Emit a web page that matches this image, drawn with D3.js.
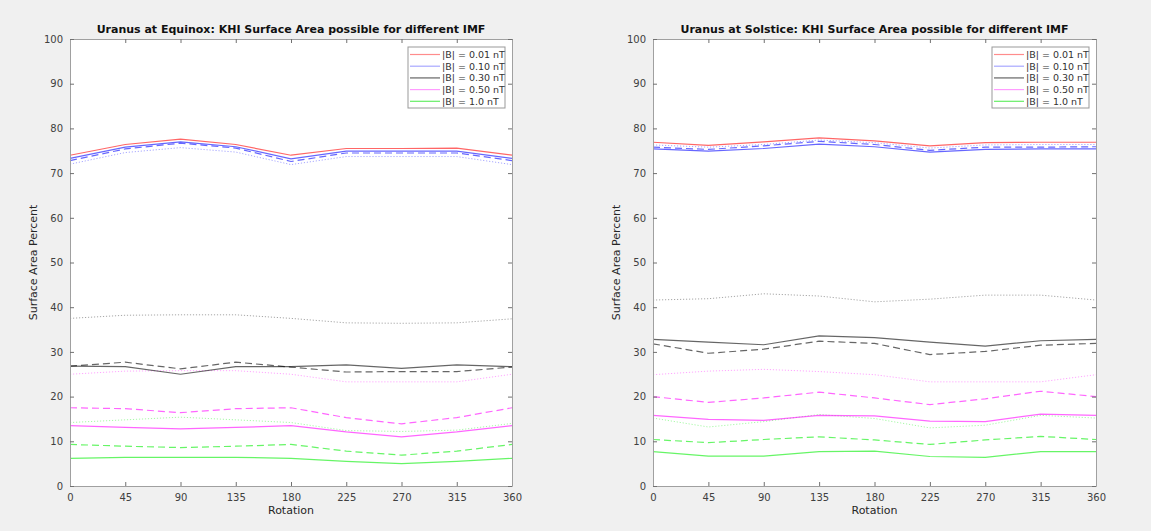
<!DOCTYPE html>
<meta charset="utf-8">
<head>
    <title>Uranus KHI</title>
    <script src="https://cdn.jsdelivr.net/npm/d3@7"></script>
</head>
<style>
    body{ margin:0; background:#f0f0f0; }
    text{ font-family: "DejaVu Sans", Arial, sans-serif; fill:#262626; }
    .tick text{ font-size:10px; fill:#404040; }
</style>
<svg width="1151" height="531"></svg>
<script>
    // rotation angles (x axis)
    var rotation = [0, 45, 90, 135, 180, 225, 270, 315, 360];
    var xTicks = [0, 45, 90, 135, 180, 225, 270, 315, 360];
    var yTicks = [0, 10, 20, 30, 40, 50, 60, 70, 80, 90, 100];
    var legendLabels = ['|B| = 0.01 nT', '|B| = 0.10 nT', '|B| = 0.30 nT', '|B| = 0.50 nT', '|B| = 1.0 nT'];
    var titles = ['Uranus at Equinox: KHI Surface Area possible for different IMF',
                  'Uranus at Solstice: KHI Surface Area possible for different IMF'];

    // equinox
    var eqB001Solid  = [74.0, 76.4, 77.6, 76.4, 74.0, 75.5, 75.5, 75.6, 74.0];
    var eqB010Solid  = [73.3, 75.8, 77.0, 75.9, 73.2, 74.9, 74.9, 74.9, 73.3];
    var eqB010Dashed = [72.8, 75.4, 76.7, 75.6, 72.6, 74.5, 74.5, 74.5, 72.8];
    var eqB010Dotted = [72.0, 74.6, 75.7, 74.7, 71.9, 73.7, 73.7, 73.7, 71.9];
    var eqB030Solid  = [26.8, 26.7, 25.0, 26.7, 26.7, 27.1, 26.3, 27.1, 26.7];
    var eqB030Dashed = [26.8, 27.7, 26.2, 27.7, 26.6, 25.5, 25.6, 25.6, 26.6];
    var eqB030Dotted = [37.5, 38.2, 38.3, 38.3, 37.5, 36.5, 36.4, 36.5, 37.4];
    var eqB050Solid  = [13.5, 13.1, 12.8, 13.1, 13.5, 12.1, 11.0, 12.1, 13.5];
    var eqB050Dashed = [17.5, 17.3, 16.4, 17.3, 17.5, 15.3, 13.9, 15.3, 17.5];
    var eqB050Dotted = [25.0, 25.7, 25.8, 25.8, 25.0, 23.3, 23.3, 23.3, 25.0];
    var eqB100Solid  = [6.2, 6.4, 6.4, 6.4, 6.2, 5.5, 5.0, 5.5, 6.2];
    var eqB100Dashed = [9.3, 8.9, 8.6, 8.9, 9.3, 7.8, 6.9, 7.8, 9.3];
    var eqB100Dotted = [14.2, 14.8, 15.4, 14.8, 14.2, 12.4, 12.2, 12.5, 14.0];

    // solstice
    var soB001Solid  = [76.9, 76.2, 77.0, 77.9, 77.2, 76.1, 76.8, 76.9, 76.9];
    var soB010Solid  = [75.4, 74.9, 75.5, 76.5, 75.9, 74.7, 75.3, 75.4, 75.4];
    var soB010Dashed = [75.8, 75.3, 76.1, 77.1, 76.4, 75.1, 75.8, 75.8, 75.9];
    var soB010Dotted = [76.3, 75.8, 76.4, 77.4, 76.8, 75.6, 76.3, 76.4, 76.4];
    var soB030Solid  = [32.8, 32.2, 31.6, 33.6, 33.2, 32.2, 31.3, 32.5, 32.8];
    var soB030Dashed = [31.8, 29.7, 30.6, 32.4, 31.9, 29.4, 30.1, 31.5, 31.9];
    var soB030Dotted = [41.6, 41.9, 43.0, 42.5, 41.2, 41.8, 42.7, 42.7, 41.6];
    var soB050Solid  = [15.8, 14.9, 14.7, 15.8, 15.7, 14.5, 14.4, 16.1, 15.8];
    var soB050Dashed = [20.0, 18.7, 19.7, 21.0, 19.7, 18.2, 19.5, 21.2, 20.0];
    var soB050Dotted = [24.9, 25.7, 26.1, 25.6, 24.9, 23.3, 23.3, 23.3, 24.9];
    var soB100Solid  = [7.7, 6.7, 6.7, 7.7, 7.8, 6.6, 6.4, 7.7, 7.7];
    var soB100Dashed = [10.4, 9.7, 10.4, 11.0, 10.3, 9.3, 10.3, 11.1, 10.4];
    var soB100Dotted = [15.2, 13.2, 14.4, 16.0, 15.1, 13.0, 13.6, 15.8, 15.2];

    var colors = ['#ff0000', '#0000ff', '#000000', '#ff00ff', '#00ee00'];
    var legendColors = ['#ff8c8c', '#a8a8ff', '#8c8c8c', '#ff9cff', '#66ee66'];
    var dashes = {solid: null, dashed: '7,4', dotted: '1.2,1.8'};

    function series(b001, b010s, b010d, b010o, b030s, b030d, b030o, b050s, b050d, b050o, b100s, b100d, b100o){
        return [
            {c:1, s:'dotted', v:b010o},
            {c:2, s:'dotted', v:b030o}, {c:3, s:'dotted', v:b050o}, {c:4, s:'dotted', v:b100o},
            {c:2, s:'dashed', v:b030d}, {c:3, s:'dashed', v:b050d}, {c:4, s:'dashed', v:b100d},
            {c:1, s:'dashed', v:b010d},
            {c:2, s:'solid', v:b030s}, {c:3, s:'solid', v:b050s}, {c:4, s:'solid', v:b100s},
            {c:1, s:'solid', v:b010s}, {c:0, s:'solid', v:b001}
        ];
    }

    var panels = [
        {title: titles[0], x0: 70, x1: 512, data: series(eqB001Solid, eqB010Solid, eqB010Dashed, eqB010Dotted,
            eqB030Solid, eqB030Dashed, eqB030Dotted, eqB050Solid, eqB050Dashed, eqB050Dotted,
            eqB100Solid, eqB100Dashed, eqB100Dotted)},
        {title: titles[1], x0: 653, x1: 1096, data: series(soB001Solid, soB010Solid, soB010Dashed, soB010Dotted,
            soB030Solid, soB030Dashed, soB030Dotted, soB050Solid, soB050Dashed, soB050Dotted,
            soB100Solid, soB100Dashed, soB100Dotted)}
    ];

    var plotTop = 39, plotBottom = 486;
    var svg = d3.select('svg');

    panels.forEach(function(p){
        var x = d3.scaleLinear().domain([0, 360]).range([p.x0, p.x1]),
            y = d3.scaleLinear().domain([0, 100]).range([plotBottom, plotTop]);
        var g = svg.append('g');

        g.append('rect').attr('x', p.x0).attr('y', plotTop)
            .attr('width', p.x1 - p.x0).attr('height', plotBottom - plotTop)
            .style('fill', '#fff');

        var line = d3.line().x(function(d, i){ return x(rotation[i]); }).y(function(d){ return y(d); });

        g.selectAll('path.series').data(p.data).enter().append('path')
            .attr('class', 'series')
            .attr('d', function(d){ return line(d.v); })
            .style('fill', 'none')
            .style('stroke', function(d){ return colors[d.c]; })
            .style('stroke-opacity', function(d){ return d.s == 'dotted' ? 0.35 : 0.6; })
            .style('stroke-width', function(d){ return d.s == 'dotted' ? 1 : 1.2; })
            .style('stroke-dasharray', function(d){ return dashes[d.s]; });

        // axes, ticks inside, box on
        var axB = g.append('g').attr('transform', 'translate(0,' + plotBottom + ')')
            .call(d3.axisBottom(x).tickValues(xTicks).tickSizeInner(-4).tickSizeOuter(0).tickPadding(8));
        var axT = g.append('g').attr('transform', 'translate(0,' + plotTop + ')')
            .call(d3.axisTop(x).tickValues(xTicks).tickSizeInner(-4).tickSizeOuter(0).tickFormat(''));
        var axL = g.append('g').attr('transform', 'translate(' + p.x0 + ',0)')
            .call(d3.axisLeft(y).tickValues(yTicks).tickSizeInner(-4).tickSizeOuter(0).tickPadding(7));
        var axR = g.append('g').attr('transform', 'translate(' + p.x1 + ',0)')
            .call(d3.axisRight(y).tickValues(yTicks).tickSizeInner(-4).tickSizeOuter(0).tickFormat(''));
        [axB, axT, axL, axR].forEach(function(a){
            a.select('.domain').style('stroke', '#a0a0a0');
            a.selectAll('.tick line').style('stroke', '#707070');
        });

        g.append('text').attr('x', (p.x0 + p.x1) / 2).attr('y', 33)
            .attr('text-anchor', 'middle').style('font-size', '11px').style('font-weight', 'bold')
            .style('fill', '#111').text(p.title);
        g.append('text').attr('x', (p.x0 + p.x1) / 2).attr('y', 514)
            .attr('text-anchor', 'middle').style('font-size', '11px').text('Rotation');
        g.append('text').attr('transform', 'translate(' + (p.x0 - 33) + ',' + ((plotTop + plotBottom) / 2) + ') rotate(-90)')
            .attr('text-anchor', 'middle').style('font-size', '11px').text('Surface Area Percent');

        // legend
        var lx1 = p.x1 - 7, lx0 = lx1 - 97, ly0 = 47;
        var lg = g.append('g');
        lg.append('rect').attr('x', lx0).attr('y', ly0).attr('width', lx1 - lx0).attr('height', 61)
            .style('fill', '#fff').style('stroke', '#999').style('stroke-width', 1);
        lg.selectAll('g.item').data(legendLabels).enter().append('g')
            .attr('class', 'item')
            .each(function(d, i){
                var yy = ly0 + 7.5 + i * 11.7;
                d3.select(this).append('line')
                    .attr('x1', lx0 + 2).attr('x2', lx0 + 32).attr('y1', yy).attr('y2', yy)
                    .style('stroke', legendColors[i]).style('stroke-width', i == 2 ? 1.6 : 1.2);
                d3.select(this).append('text')
                    .attr('x', lx0 + 34).attr('y', yy).attr('dy', '0.35em')
                    .style('font-size', '9.5px').style('fill', '#333').text(d);
            });
    });
</script>
